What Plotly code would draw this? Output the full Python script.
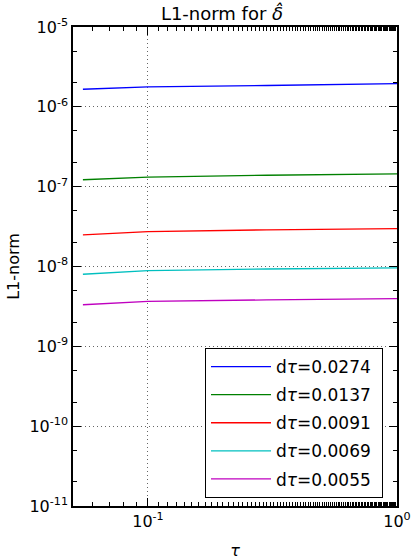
import plotly.graph_objects as go

# Time points (tau) and L1-norm error of delta-hat for each time step
tau = [0.0548, 0.1, 0.3, 1.0]
err_0274 = [1.66e-6, 1.78e-6, 1.85e-6, 1.95e-6]
err_0137 = [1.22e-7, 1.32e-7, 1.39e-7, 1.45e-7]
err_0091 = [2.49e-8, 2.74e-8, 2.88e-8, 2.99e-8]
err_0069 = [8.0e-9, 8.9e-9, 9.3e-9, 9.6e-9]
err_0055 = [3.32e-9, 3.65e-9, 3.82e-9, 3.95e-9]

step_labels = ["0.0274", "0.0137", "0.0091", "0.0069", "0.0055"]
series = [err_0274, err_0137, err_0091, err_0069, err_0055]
colors = ["#0000ff", "#008000", "#ff0000", "#00bfbf", "#bf00bf"]

x_ticks = [0.1, 1.0]
x_ticktext = ["10<sup>-1</sup>", "10<sup>0</sup>"]
y_ticks = [1e-11, 1e-10, 1e-9, 1e-8, 1e-7, 1e-6, 1e-5]
y_ticktext = ["10<sup>-11</sup>", "10<sup>-10</sup>", "10<sup>-9</sup>", "10<sup>-8</sup>",
              "10<sup>-7</sup>", "10<sup>-6</sup>", "10<sup>-5</sup>"]

fig = go.Figure()
for i, (lab, ys, c) in enumerate(zip(step_labels, series, colors)):
    fig.add_trace(go.Scatter(
        x=tau, y=ys, mode="lines", line=dict(color=c, width=1.3),
        name="d<i>τ</i>=" + lab + "\u00a0", legendgroup=str(i),
    ))

font = dict(family="DejaVu Sans", size=16, color="black")

axis_common = dict(
    type="log", showline=True, linecolor="black", linewidth=1.5, mirror="ticks",
    ticks="inside", ticklen=8, tickcolor="black", tickwidth=1,
    showgrid=True, gridcolor="#666666", griddash="1px,3px", gridwidth=1,
    zeroline=False, automargin=False,
    minor=dict(ticks="inside", ticklen=4, tickcolor="black", showgrid=False),
    tickfont=font,
)

fig.update_layout(
    width=411, height=560,
    margin=dict(l=73, r=14, t=27, b=54),
    paper_bgcolor="white", plot_bgcolor="white",
    font=font,
    showlegend=True,
    title=dict(text="L1-norm for <i>δ̂</i>", x=222 / 411, xanchor="center",
               y=1 - 14 / 560, yanchor="middle", font=dict(size=18)),
    xaxis=dict(axis_common, range=[-1.30103, 0],
               tickvals=x_ticks, ticktext=x_ticktext,
               title=dict(text="<i>τ</i>", standoff=18, font=dict(size=16))),
    yaxis=dict(axis_common, range=[-11, -5],
               tickvals=y_ticks, ticktext=y_ticktext,
               title=dict(text="L1-norm", standoff=6, font=dict(size=16))),
    legend=dict(
        x=(205 - 73) / 324, y=(506 - 348) / 479, xanchor="left", yanchor="top",
        bordercolor="black", borderwidth=1, bgcolor="white",
        traceorder="grouped", tracegroupgap=3,
        font=dict(size=17), itemwidth=60,
    ),
)

fig.write_html("out.html")
